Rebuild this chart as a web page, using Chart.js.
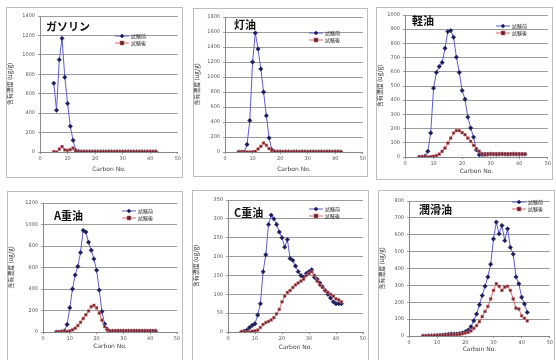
<!DOCTYPE html>
<html><head><meta charset="utf-8">
<script src="https://cdn.jsdelivr.net/npm/chart.js@4.4.1/dist/chart.umd.min.js"></script>
<style>
html,body{margin:0;padding:0;background:#fff;width:556px;height:360px;overflow:hidden;position:relative;font-family:"Noto Sans CJK JP",sans-serif;}
.box{position:absolute;border:1px solid #bdbdbd;box-sizing:border-box;background:#fff;}
canvas{position:absolute;}
.ttl{position:absolute;font-size:11px;font-weight:700;color:#111;white-space:nowrap;line-height:1;}
.lg{position:absolute;font-size:5px;color:#222;line-height:1;}
.lg .row{display:flex;align-items:center;height:7px;}
.lg svg{display:block;margin-right:2px;}
</style></head><body>
<script>
// ---- data ----
const carbonNo = [5,6,7,8,9,10,11,12,13,14,15,16,17,18,19,20,21,22,23,24,25,26,27,28,29,30,31,32,33,34,35,36,37,38,39,40,41,42];
const seriesLabels = ['試験前','試験後'];
const panelTitles = ['ガソリン','灯油','軽油','A重油','C重油','潤滑油'];
const xTitle = 'Carbon No.';
const yTitle = '含有濃度 (ug/g)';
const yMaxes = [1400,1800,1000,1200,350,800];
const ySteps = [200,200,100,200,50,100];

const gasolineBefore = [707,430,950,1170,770,500,265,120,15,5,4,3,3,2,3,3,2,3,3,2,3,3,2,3,3,2,3,3,2,3,3,2,3,3,2,3,3,2];
const gasolineAfter  = [5,0,30,55,22,17,24,40,8,4,3,3,2,3,3,2,3,3,2,3,3,2,3,3,2,3,3,2,3,3,2,3,3,2,3,3,2,3];
const keroseneBefore = [0,0,0,100,420,1200,1587,1373,1107,800,485,187,30,5,3,3,2,3,3,2,3,3,2,3,3,2,3,3,2,3,3,2,3,3,2,3,3,2];
const keroseneAfter  = [0,0,0,0,0,2,8,40,75,120,90,45,20,6,3,3,2,3,3,2,3,3,2,3,3,2,3,3,2,3,3,2,3,3,2,3,3,2];
const lightOilBefore = [0,0,5,40,169,485,595,637,665,766,883,890,843,703,595,468,407,281,204,140,50,15,18,20,19,21,20,19,20,21,20,19,20,21,20,19,20,20];
const lightOilAfter  = [0,0,0,0,2,5,10,20,40,63,98,133,169,186,186,172,157,133,110,82,58,40,23,15,20,21,20,22,21,20,22,21,20,22,21,20,21,20];
const heavyABefore   = [0,0,2,10,70,225,400,530,610,740,945,930,835,760,680,575,390,190,75,25,5,8,9,10,9,10,9,10,9,10,9,10,9,10,9,10,9,10];
const heavyAAfter    = [0,0,5,5,5,10,20,35,60,90,125,160,195,235,248,225,175,110,50,20,10,10,11,10,11,10,11,10,11,10,11,10,11,10,11,10,11,10];
const heavyCBefore   = [0,2,5,12,18,22,45,75,160,205,285,310,300,285,265,250,225,245,195,190,175,160,150,145,155,160,165,145,140,130,120,110,100,90,80,75,75,75];
const heavyCAfter    = [0,0,0,0,2,3,5,12,20,25,28,32,38,48,60,80,95,105,110,118,125,130,135,140,150,155,160,150,135,125,118,110,105,100,95,88,85,80];
const lubeBefore     = [0,0,2,2,3,4,5,6,8,10,12,12,12,15,18,25,35,55,90,130,185,240,295,350,425,575,675,605,655,565,635,525,485,350,310,230,190,140];
const lubeAfter      = [0,0,0,1,2,2,3,4,5,6,7,8,9,10,14,18,22,30,45,62,85,115,145,175,220,270,310,295,270,290,295,270,220,165,160,120,105,90];

const before = [gasolineBefore,keroseneBefore,lightOilBefore,heavyABefore,heavyCBefore,lubeBefore];
const after  = [gasolineAfter,keroseneAfter,lightOilAfter,heavyAAfter,heavyCAfter,lubeAfter];

// ---- layout (page px) ----
const boxes = [
 {L:6,T:7,R:183,B:178, pL:40,pT:16,pR:180,pB:152, xt:169, tx:46,ty:21, lx:115,ly:32},
 {L:193,T:8,R:368,B:177, pL:225,pT:17,pR:364,pB:152, xt:169, tx:234,ty:19, lx:309,ly:29},
 {L:376,T:7,R:553,B:180, pL:405,pT:15,pR:550,pB:157, xt:171, tx:412,ty:15, lx:496,ly:22},
 {L:7,T:191,R:183,B:364, pL:43,pT:203,pR:177,pB:332, xt:346, tx:54,ty:210, lx:122,ly:207},
 {L:192,T:190,R:369,B:364, pL:228,pT:200,pR:363,pB:332, xt:347, tx:234,ty:207, lx:309,ly:205},
 {L:378,T:190,R:555,B:364, pL:409,pT:201,pR:550,pB:336, xt:349, tx:419,ty:204, lx:512,ly:198}
];
const BLUE='#5c5cd6', NAVY='#1c1c5a', RED='#dc6b6b', DRED='#5a2233';

function markerSvg(i){
  const line = i===0?BLUE:RED;
  const m = i===0
    ? `<polygon points="7,0.8 9.2,3 7,5.2 4.8,3" fill="${NAVY}"/>`
    : `<rect x="5" y="1" width="4" height="4" fill="${DRED}" stroke="${RED}" stroke-width="0.6"/>`;
  return `<svg width="14" height="6"><line x1="0" y1="3" x2="14" y2="3" stroke="${line}" stroke-width="1"/>${m}</svg>`;
}

boxes.forEach((b,k)=>{
  const d=document.createElement('div'); d.className='box';
  Object.assign(d.style,{left:b.L+'px',top:b.T+'px',width:(b.R-b.L)+'px',height:(b.B-b.T)+'px'});
  document.body.appendChild(d);
  const cv=document.createElement('canvas');
  cv.width=b.R-b.L; cv.height=b.B-b.T;
  Object.assign(cv.style,{left:b.L+'px',top:b.T+'px',width:(b.R-b.L)+'px',height:(b.B-b.T)+'px'});
  document.body.appendChild(cv);
  const t=document.createElement('div'); t.className='ttl'; t.textContent=panelTitles[k];
  Object.assign(t.style,{left:b.tx+'px',top:b.ty+'px'});
  document.body.appendChild(t);
  const lg=document.createElement('div'); lg.className='lg';
  Object.assign(lg.style,{left:b.lx+'px',top:b.ly+'px'});
  lg.innerHTML = seriesLabels.map((s,i)=>`<div class="row">${markerSvg(i)}<span>${s}</span></div>`).join('');
  document.body.appendChild(lg);

  const axisBottom = b.xt + 4;
  new Chart(cv,{
    type:'line',
    data:{datasets:[
      {label:seriesLabels[0], data:carbonNo.map((c,i)=>({x:c,y:before[k][i]})), borderColor:BLUE, borderWidth:1,
       pointStyle:'rectRot', pointRadius:2.2, pointBackgroundColor:NAVY, pointBorderColor:NAVY, pointBorderWidth:0.5, tension:0, order:2},
      {label:seriesLabels[1], data:carbonNo.map((c,i)=>({x:c,y:after[k][i]})), borderColor:RED, borderWidth:1,
       pointStyle:'rect', pointRadius:1.9, pointBackgroundColor:DRED, pointBorderColor:RED, pointBorderWidth:0.6, tension:0, order:1}
    ]},
    options:{
      responsive:false, animation:false, devicePixelRatio:1,
      layout:{padding:{top:b.pT-b.T,right:b.R-b.pR,left:0,bottom:b.B-axisBottom}},
      plugins:{legend:{display:false},tooltip:{enabled:false}},
      scales:{
        x:{type:'linear',min:0,max:50,
           ticks:{stepSize:10,font:{size:5,family:'DejaVu Sans'},color:'#555',padding:2,maxRotation:0,callback:v=>String(v)},
           grid:{drawOnChartArea:false,tickLength:2,color:'#888'}, border:{color:'#888'},
           title:{display:true,text:xTitle,font:{size:6,family:'DejaVu Sans'},color:'#444',padding:{top:1,bottom:0}},
           afterFit:s=>{s.height=axisBottom-b.pB;}},
        y:{min:0,max:yMaxes[k],
           ticks:{stepSize:ySteps[k],font:{size:5,family:'DejaVu Sans'},color:'#555',padding:3,callback:v=>String(v)},
           grid:{color:'#9c9c9c',tickLength:2}, border:{color:'#888'},
           title:{display:true,text:yTitle,font:{size:6,family:'Noto Sans CJK JP'},color:'#333',padding:{top:0,bottom:2}},
           afterFit:s=>{s.width=b.pL-b.L;}}
      }
    }
  });
});
</script>
</body></html>
